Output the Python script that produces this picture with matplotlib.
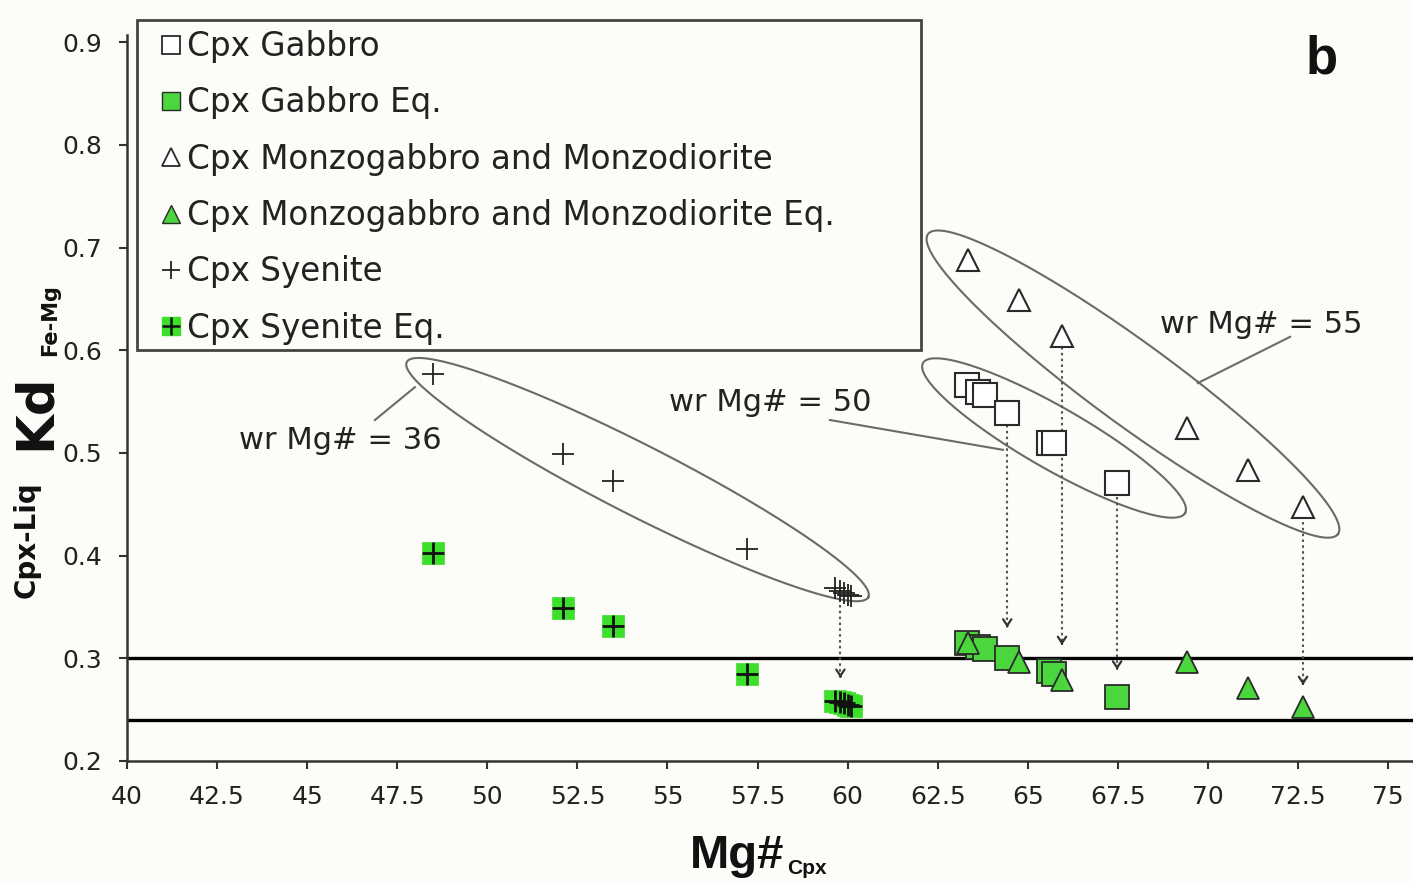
import numpy as np
import matplotlib
matplotlib.use("Agg")
import matplotlib.pyplot as plt
from matplotlib.lines import Line2D
from matplotlib.patches import Rectangle

# ---------------- data ----------------
gab_x = [63.32, 63.62, 63.82, 64.43, 65.60, 65.72, 67.48]
gab_y = [0.566, 0.559, 0.556, 0.539, 0.510, 0.510, 0.471]
gabeq_y = [0.315, 0.311, 0.309, 0.300, 0.288, 0.285, 0.262]

monz_x = [63.35, 64.75, 65.95, 69.42, 71.11, 72.64]
monz_y = [0.688, 0.649, 0.614, 0.524, 0.483, 0.447]
monzeq_y = [0.315, 0.296, 0.279, 0.296, 0.271, 0.253]

sye_x = [48.5, 52.1, 53.5, 57.2, 59.65, 59.78, 59.9, 60.0, 60.1]
sye_y = [0.577, 0.499, 0.473, 0.406, 0.368, 0.366, 0.364, 0.362, 0.361]
syeeq_y = [0.403, 0.349, 0.331, 0.285, 0.258, 0.257, 0.256, 0.255, 0.254]

ref_lines = [0.30, 0.24]

# arrows: x, y start, y end
arrow_x = [64.43, 65.95, 67.48, 72.64, 59.8]
arrow_y0 = [0.527, 0.603, 0.457, 0.433, 0.352]
arrow_y1 = [0.330, 0.313, 0.289, 0.274, 0.281]

# ellipses: center x, center y, semi-major (px), semi-minor (px), angle (deg, descending)
ell_cx = [54.17, 65.73, 67.92]
ell_cy = [0.474, 0.5145, 0.567]
ell_a = [259, 151, 254]
ell_b = [35, 31, 41]
ell_ang = [27.0, 29.8, 36.2]

labels = ["wr Mg# = 36", "wr Mg# = 50", "wr Mg# = 55"]
label_x = [45.91, 57.85, 71.47]
label_y = [0.512, 0.549, 0.625]
lead_x0 = [46.88, 59.51, 72.28]
lead_y0 = [0.532, 0.532, 0.613]
lead_x1 = [47.99, 64.31, 69.72]
lead_y1 = [0.564, 0.503, 0.568]

xticks = [40, 42.5, 45, 47.5, 50, 52.5, 55, 57.5, 60, 62.5, 65, 67.5, 70, 72.5, 75]
xticklabels = ["40", "42.5", "45", "47.5", "50", "52.5", "55", "57.5", "60",
               "62.5", "65", "67.5", "70", "72.5", "75"]
yticks = [0.2, 0.3, 0.4, 0.5, 0.6, 0.7, 0.8, 0.9]
yticklabels = ["0.2", "0.3", "0.4", "0.5", "0.6", "0.7", "0.8", "0.9"]

# ---------------- figure ----------------
W, H, DPI = 1413, 882, 100
bg = "#FCFCF8"
fig = plt.figure(figsize=(W / DPI, H / DPI), dpi=DPI, facecolor=bg)
xmin, xmax = 40, 75.69
ymin, ymax = 0.2, 0.907
left_px, bottom_px = 127, 761
px_per_x = 36.03
px_per_y = 1027.0
ax_w = (xmax - xmin) * px_per_x
ax_h = (ymax - ymin) * px_per_y
ax = fig.add_axes([left_px / W, (H - bottom_px) / H, ax_w / W, ax_h / H])
ax.set_facecolor(bg)
ax.set_xlim(xmin, xmax)
ax.set_ylim(ymin, ymax)

for s in ["top", "right"]:
    ax.spines[s].set_visible(False)
for s in ["left", "bottom"]:
    ax.spines[s].set_linewidth(1.8)
    ax.spines[s].set_color("#333333")

ax.set_xticks(xticks)
ax.set_xticklabels(xticklabels)
ax.set_yticks(yticks)
ax.set_yticklabels(yticklabels)
ax.tick_params(direction="out", length=6, width=1.5, color="#333333",
               labelsize=18, labelcolor="#222222")
ax.tick_params(axis="x", pad=11)
ax.tick_params(axis="y", pad=12)

# reference lines
for yv in ref_lines:
    ax.axhline(yv, color="black", lw=2.4, zorder=2)

green = "#4AD63C"
green2 = "#3CE02A"
edge = "#2a2a2a"

# ellipses
t = np.linspace(0, 2 * np.pi, 400)
for cx, cy, a, b, ang in zip(ell_cx, ell_cy, ell_a, ell_b, ell_ang):
    th = np.deg2rad(ang)
    ux, uy = np.cos(th), -np.sin(th)
    vx, vy = np.sin(th), np.cos(th)
    dxp = a * np.cos(t) * ux + b * np.sin(t) * vx
    dyp = a * np.cos(t) * uy + b * np.sin(t) * vy
    ax.plot(cx + dxp / px_per_x, cy + dyp / px_per_y, color="#6a6a6a", lw=1.5, zorder=3)

# leader lines and labels
for lab, lx, ly, x0, y0, x1, y1 in zip(labels, label_x, label_y, lead_x0, lead_y0, lead_x1, lead_y1):
    ax.plot([x0, x1], [y0, y1], color="#6a6a6a", lw=1.5, zorder=3)
    ax.text(lx, ly, lab, ha="center", va="center", fontsize=22, color="#222222", zorder=6)

# dotted arrows
for xa, y0, y1 in zip(arrow_x, arrow_y0, arrow_y1):
    ax.plot([xa, xa], [y0, y1 + 0.004], color="#555555", lw=1.5, ls=(0, (1.2, 1.6)), zorder=3)
    ax.annotate("", xy=(xa, y1), xytext=(xa, y1 + 0.0015),
                arrowprops=dict(arrowstyle="->,head_length=0.45,head_width=0.3",
                                color="#333333", lw=1.6, shrinkA=0, shrinkB=0), zorder=4)

# markers
ms_sq = 17.5
ms_tri = 16.5
ax.plot(gab_x, gabeq_y, ls="none", marker="s", ms=ms_sq, mfc=green, mec=edge, mew=1.3, zorder=5)
ax.plot(monz_x, monzeq_y, ls="none", marker="^", ms=ms_tri, mfc=green, mec=edge, mew=1.3, zorder=5)
ax.plot(sye_x, syeeq_y, ls="none", marker="s", ms=16, mfc=green2, mec=green2, mew=0.5, zorder=5)
ax.plot(sye_x, syeeq_y, ls="none", marker="+", ms=16, mec="#111111", mew=2.0, zorder=6)

ax.plot(gab_x, gab_y, ls="none", marker="s", ms=ms_sq, mfc="white", mec=edge, mew=1.5, zorder=5)
ax.plot(monz_x, monz_y, ls="none", marker="^", ms=ms_tri, mfc="white", mec=edge, mew=1.5, zorder=5)
ax.plot(sye_x, sye_y, ls="none", marker="+", ms=16, mec="#222222", mew=1.3, zorder=5)

# panel letter
fig.text(1322 / W, 1 - 60 / H, "b", fontsize=38, fontweight="bold",
         family="Liberation Sans", ha="center", va="center", color="#111111")

# legend
h_gab = Line2D([], [], ls="none", marker="s", ms=13, mfc="white", mec=edge, mew=1.3)
h_gabeq = Line2D([], [], ls="none", marker="s", ms=13, mfc=green, mec=edge, mew=1.0)
h_monz = Line2D([], [], ls="none", marker="^", ms=13, mfc="white", mec=edge, mew=1.3)
h_monzeq = Line2D([], [], ls="none", marker="^", ms=13, mfc=green, mec=edge, mew=1.0)
h_sye = Line2D([], [], ls="none", marker="+", ms=13, mec="#222222", mew=1.3)
h_syeeq_a = Line2D([], [], ls="none", marker="s", ms=13, mfc=green2, mec=green2)
h_syeeq_b = Line2D([], [], ls="none", marker="+", ms=13, mec="#111111", mew=1.8)
leg_labels = ["Cpx Gabbro", "Cpx Gabbro Eq.", "Cpx Monzogabbro and Monzodiorite",
              "Cpx Monzogabbro and Monzodiorite Eq.", "Cpx Syenite", "Cpx Syenite Eq."]
leg = fig.legend([h_gab, h_gabeq, h_monz, h_monzeq, h_sye, (h_syeeq_a, h_syeeq_b)],
                 leg_labels, loc="upper left", bbox_to_anchor=(161 / W, 1 - 30 / H),
                 bbox_transform=fig.transFigure, frameon=False, fontsize=23.5,
                 handlelength=0.6, handletextpad=0.2, labelspacing=0.715,
                 borderpad=0, borderaxespad=0)
for txt in leg.get_texts():
    txt.set_color("#222222")
fig.patches.append(Rectangle((137 / W, 1 - 350 / H), (921 - 137) / W, (350 - 20) / H,
                             transform=fig.transFigure, fill=True, facecolor=bg,
                             edgecolor="#444444", lw=2.0, zorder=0.5))

# axis labels
fig.text(690 / W, 1 - 868 / H, "Mg#", fontsize=34, fontweight="bold",
         family="Liberation Sans", ha="left", va="baseline", color="#111111")
fig.text(787 / W, 1 - 874 / H, "Cpx", fontsize=15, fontweight="bold",
         family="Liberation Sans", ha="left", va="baseline", color="#111111")

fig.text(27 / W, 1 - 540 / H, "Cpx-Liq", fontsize=20, fontweight="bold", rotation=90,
         ha="center", va="center", color="#111111")
fig.text(36 / W, 1 - 412 / H, "Kd", fontsize=37, fontweight="bold", rotation=90,
         ha="center", va="center", color="#111111")
fig.text(50 / W, 1 - 320 / H, "Fe-Mg", fontsize=15, fontweight="bold", rotation=90,
         ha="center", va="center", color="#111111")

fig.savefig("out.png", dpi=DPI, facecolor=bg)
